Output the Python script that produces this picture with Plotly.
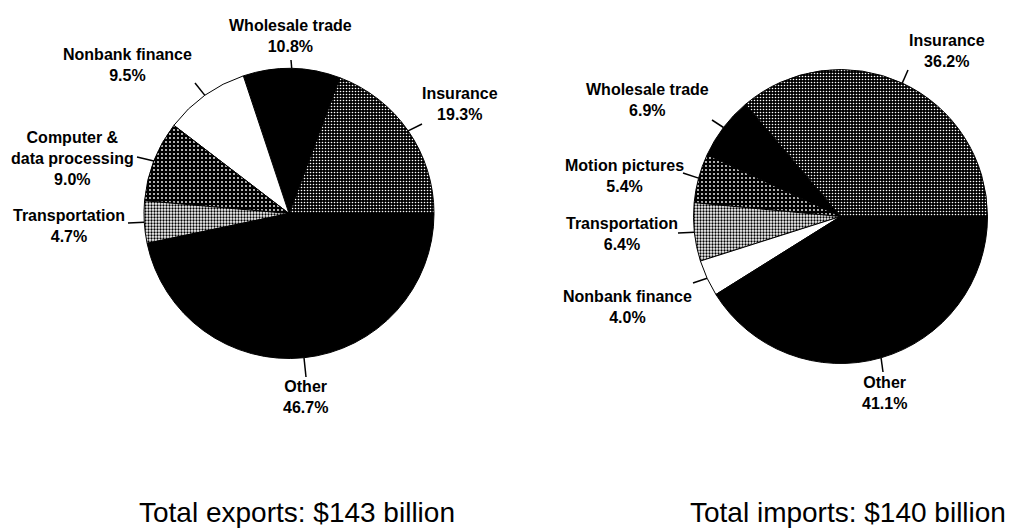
import math
import plotly.graph_objects as go

# ---- data -------------------------------------------------------------
export_categories = ["Insurance", "Wholesale trade", "Nonbank finance",
                     "Computer &<br>data processing", "Transportation", "Other"]
export_shares = [19.3, 10.8, 9.5, 9.0, 4.7, 46.7]

import_categories = ["Insurance", "Wholesale trade", "Motion pictures",
                     "Transportation", "Nonbank finance", "Other"]
import_shares = [36.2, 6.9, 5.4, 6.4, 4.0, 41.1]

total_labels = ["Total exports", "Total imports"]
totals_billion = [143, 140]

# ---- canvas / layout constants (pixels) --------------------------------
W, H = 1022, 532
FONT = "Liberation Sans, Arial, Helvetica, sans-serif"

# halftone fills per category
FILLS = {
    "Insurance":       dict(color="#4a4a4a", shape=".", fg="white", bg="black", size=3, sol=0.24),
    "Wholesale trade": dict(color="black", shape="", fg="black", bg="black", size=3, sol=0.3),
    "Nonbank finance": dict(color="white", shape="", fg="white", bg="white", size=3, sol=0.3),
    "Computer &<br>data processing": dict(color="#262626", shape=".", fg="white", bg="black", size=4, sol=0.16),
    "Motion pictures": dict(color="#262626", shape=".", fg="white", bg="black", size=4, sol=0.16),
    "Transportation":  dict(color="#bbbbbb", shape=".", fg="black", bg="white", size=3, sol=0.45),
    "Other":           dict(color="black", shape="", fg="black", bg="black", size=3, sol=0.3),
}

pies = [
    dict(cats=export_categories, vals=export_shares, cx=289, cy=213.5, r=145,
         labels=[(460, 104), (290, 36), (127, 65), (72, 158), (69, 226), (305, 397)],
         elbows=[(422, 124), (291, 60), (195, 83), (137, 157), (128, 223), (306, 377)],
         title_x=297),
    dict(cats=import_categories, vals=import_shares, cx=840.5, cy=216.5, r=147,
         labels=[(947, 51), (647, 100), (624, 176), (622, 234), (627, 307), (884, 393)],
         elbows=[(908, 70), (712, 120), (683, 173), (678, 233), (693, 283), (883, 372)],
         title_x=848),
]


def px(x):
    return x / W


def py(y):
    return 1 - y / H


fig = go.Figure()
shapes = []
annotations = []

for i, p in enumerate(pies):
    cats, vals = p["cats"], p["vals"]
    total = sum(vals)
    f = [FILLS[c] for c in cats]
    # plotly places the first counterclockwise slice ending at `rotation`;
    # shift it so the first slice starts at 3 o'clock and runs upward
    rot = 90 - 360.0 * vals[0] / total
    fig.add_trace(go.Pie(
        labels=cats,
        values=vals,
        sort=False,
        direction="counterclockwise",
        rotation=rot,
        textinfo="none",
        hoverinfo="label+percent",
        showlegend=False,
        domain=dict(x=[px(p["cx"] - p["r"]), px(p["cx"] + p["r"])],
                    y=[py(p["cy"] + p["r"]), py(p["cy"] - p["r"])]),
        marker=dict(
            colors=[d["color"] for d in f],
            line=dict(color="black", width=1),
            pattern=dict(
                shape=[d["shape"] for d in f],
                fgcolor=[d["fg"] for d in f],
                bgcolor=[d["bg"] for d in f],
                size=[d["size"] for d in f],
                solidity=[d["sol"] for d in f],
                fillmode="replace",
            ),
        ),
    ))

    # slice labels with leader lines from the rim at each slice's mid-angle
    start = 0.0
    for j, (cat, v) in enumerate(zip(cats, vals)):
        mid = math.radians((start + v / 2) / total * 360.0)
        start += v
        rx = p["cx"] + p["r"] * math.cos(mid)
        ry = p["cy"] - p["r"] * math.sin(mid)
        ex, ey = p["elbows"][j]
        shapes.append(dict(type="line", xref="paper", yref="paper",
                           x0=px(rx), y0=py(ry), x1=px(ex), y1=py(ey),
                           line=dict(color="black", width=1.5)))
        lx, ly = p["labels"][j]
        annotations.append(dict(
            x=px(lx), y=py(ly), xref="paper", yref="paper",
            xanchor="center", yanchor="middle", showarrow=False,
            text=f"<b>{cat}<br>{v:.1f}%</b>", align="center",
            font=dict(family=FONT, size=16, color="black"),
        ))

    annotations.append(dict(
        x=px(p["title_x"]), y=py(512), xref="paper", yref="paper",
        xanchor="center", yanchor="middle", showarrow=False,
        text=f"{total_labels[i]}: ${totals_billion[i]} billion",
        font=dict(family=FONT, size=28, color="black"),
    ))

fig.update_layout(
    width=W, height=H,
    margin=dict(l=0, r=0, t=0, b=0),
    paper_bgcolor="white",
    plot_bgcolor="white",
    shapes=shapes,
    annotations=annotations,
)

fig.write_html("out.html")
